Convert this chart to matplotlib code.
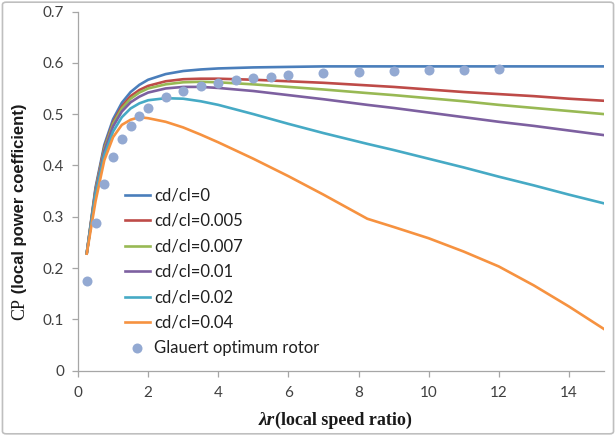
import matplotlib
matplotlib.use("Agg")
import matplotlib.pyplot as plt
from matplotlib.patches import FancyBboxPatch

# ---- data ----
lam = [0.25, 0.5, 0.75, 1.0, 1.25, 1.5, 1.75, 2.0, 2.5, 3.0, 3.5, 4.0,
       5.0, 6.0, 7.0, 8.25, 9.0, 10.0, 11.0, 12.0, 13.0, 14.0, 15.0]
cp_0 = [0.229, 0.357, 0.440, 0.490, 0.522, 0.543, 0.557, 0.567, 0.578, 0.584, 0.587, 0.589,
        0.591, 0.592, 0.593, 0.593, 0.593, 0.593, 0.593, 0.593, 0.593, 0.593, 0.593]
cp_005 = [0.229, 0.353, 0.435, 0.484, 0.515, 0.535, 0.547, 0.555, 0.564, 0.568, 0.569, 0.569,
          0.567, 0.564, 0.561, 0.556, 0.553, 0.548, 0.543, 0.539, 0.535, 0.530, 0.526]
cp_007 = [0.229, 0.351, 0.432, 0.481, 0.511, 0.530, 0.542, 0.550, 0.558, 0.562, 0.563, 0.562,
          0.558, 0.553, 0.548, 0.541, 0.537, 0.531, 0.525, 0.518, 0.512, 0.506, 0.500]
cp_01 = [0.229, 0.348, 0.428, 0.476, 0.505, 0.523, 0.534, 0.542, 0.550, 0.553, 0.553, 0.551,
         0.545, 0.537, 0.529, 0.518, 0.512, 0.503, 0.494, 0.485, 0.477, 0.468, 0.459]
cp_02 = [0.229, 0.343, 0.420, 0.466, 0.494, 0.511, 0.521, 0.527, 0.531, 0.530, 0.525, 0.518,
         0.500, 0.481, 0.463, 0.442, 0.430, 0.413, 0.396, 0.378, 0.361, 0.343, 0.326]
cp_04 = [0.228, 0.330, 0.410, 0.455, 0.479, 0.489, 0.494, 0.492, 0.485, 0.474, 0.460, 0.445,
         0.413, 0.379, 0.343, 0.296, 0.280, 0.258, 0.232, 0.203, 0.166, 0.125, 0.081]

glauert_lam = [0.25, 0.5, 0.75, 1.0, 1.25, 1.5, 1.75, 2.0, 2.5, 3.0, 3.5, 4.0, 4.5,
               5.0, 5.5, 6.0, 7.0, 8.0, 9.0, 10.0, 11.0, 12.0]
glauert_cp = [0.175, 0.288, 0.364, 0.416, 0.451, 0.477, 0.496, 0.512, 0.533, 0.545, 0.555,
              0.561, 0.566, 0.570, 0.572, 0.576, 0.580, 0.583, 0.584, 0.585, 0.586, 0.587]

labels = ["cd/cl=0", "cd/cl=0.005", "cd/cl=0.007", "cd/cl=0.01", "cd/cl=0.02", "cd/cl=0.04"]
series = [cp_0, cp_005, cp_007, cp_01, cp_02, cp_04]
colors = ["#4A7EBB", "#BE4B48", "#98B954", "#7D60A0", "#46AAC5", "#F69240"]
glauert_label = "Glauert optimum rotor"
glauert_color = "#93A9D2"

xticks = [0, 2, 4, 6, 8, 10, 12, 14]
yticks = [0, 0.1, 0.2, 0.3, 0.4, 0.5, 0.6, 0.7]

# ---- figure ----
plt.rcParams['font.family'] = ['Lato', 'DejaVu Sans']
fig = plt.figure(figsize=(6.16, 4.36), dpi=100)
ax = fig.add_axes([78/616, (436-370.6)/436, (604-78)/616, (370.6-11.5)/436])

for y, lab, c in zip(series, labels, colors):
    ax.plot(lam, y, color=c, lw=1.9, label=lab, solid_joinstyle='round')
ax.plot(glauert_lam, glauert_cp, 'o', ls='none', color=glauert_color, ms=7.2,
        markeredgewidth=0, label=glauert_label)

ax.set_xlim(0, 15)
ax.set_ylim(0, 0.7)
ax.set_xticks(xticks)
ax.set_xticklabels([str(t) for t in xticks])
ax.set_yticks(yticks)
ax.set_yticklabels(["0"] + [f"{t:.1f}" for t in yticks[1:]])
for s in ["top", "right"]:
    ax.spines[s].set_visible(False)
for s in ["left", "bottom"]:
    ax.spines[s].set_color("#A6A6A6")
    ax.spines[s].set_linewidth(0.9)
ax.tick_params(axis='both', colors="#A6A6A6", labelcolor="#404040", labelsize=11,
               length=4, width=0.9, direction='out')
ax.tick_params(axis='x', pad=7)
ax.tick_params(axis='y', pad=6)

leg = ax.legend(loc='upper left', bbox_to_anchor=(0.089, 0.51), frameon=False,
                fontsize=12, handlelength=1.5, handletextpad=0.25, labelspacing=0.57,
                borderpad=0, borderaxespad=0, numpoints=1)
for t in leg.get_texts():
    t.set_color("#202020")

# y label: "CP" serif + sans bold remainder
t1 = fig.text(20/616, 1 - 320/436, "CP", family="Liberation Serif", fontsize=13,
              rotation=90, ha='center', va='bottom', color="#1A1A1A")
ax.annotate(" (local power coefficient)", xy=(0.5, 1), xycoords=t1, rotation=90,
            ha='center', va='bottom', fontsize=12, fontweight='bold',
            family=['Liberation Sans', 'DejaVu Sans'], color="#1A1A1A",
            annotation_clip=False)

# x label
t2 = fig.text(259/616, 1 - 420/436, "λr", family="Liberation Serif", fontsize=14,
              fontweight='bold', style='italic', ha='left', va='center', color="#1A1A1A")
ax.annotate("(local speed ratio)", xy=(1, 0.5), xycoords=t2, ha='left', va='center',
            fontsize=13, fontweight='bold', family="Liberation Serif", color="#1A1A1A",
            annotation_clip=False)

fig.patches.append(FancyBboxPatch((0.004, 0.005), 0.992, 0.99, transform=fig.transFigure,
                                  boxstyle="round,pad=0,rounding_size=0.006",
                                  fill=False, edgecolor="#BFBFBF", lw=1.2))

fig.savefig("out.png", dpi=100)
